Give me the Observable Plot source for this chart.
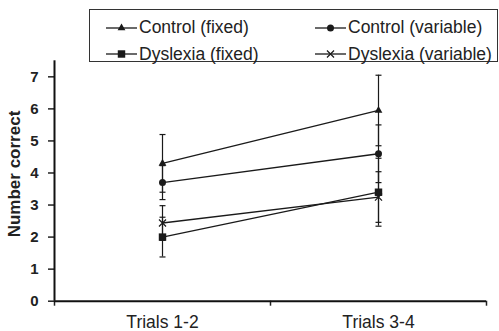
<!DOCTYPE html>
<html>
<head>
<meta charset="utf-8">
<script src="https://cdn.jsdelivr.net/npm/d3@7"></script>
<script src="https://cdn.jsdelivr.net/npm/@observablehq/plot@0.6"></script>
<style>
  html, body { margin: 0; padding: 0; background: #fff; }
  #wrap { position: relative; width: 499px; height: 331px; font-family: "Liberation Sans", Arial, sans-serif; color: #222; }
  #legend { position: absolute; left: 89px; top: 9px; width: 409px; height: 53px; border: 1.5px solid #333; box-sizing: border-box; background: #fff; }
  .item { position: absolute; height: 20px; display: flex; align-items: center; font-size: 17.5px; white-space: nowrap; }
  .item svg { margin-right: 2px; }
</style>
</head>
<body>
<div id="wrap"><div id="legend"></div></div>
<script>
// ---- data ----
const categories = ["Trials 1-2", "Trials 3-4"];
const seriesNames = ["Control (fixed)", "Control (variable)", "Dyslexia (fixed)", "Dyslexia (variable)"];
const controlFixed = [4.3, 5.95];
const controlFixedErr = [0.9, 1.1];
const controlVariable = [3.7, 4.6];
const controlVariableErr = [0.53, 0.9];
const dyslexiaFixed = [2.0, 3.4];
const dyslexiaFixedErr = [0.62, 1.06];
const dyslexiaVariable = [2.44, 3.25];
const dyslexiaVariableErr = [0.54, 0.79];
const yTicks = [0, 1, 2, 3, 4, 5, 6, 7];
const yLabel = "Number correct";

// ---- styles ----
const ink = "#1a1a1a";
const seriesSymbols = ["triangle", "circle", "square", "times"];
const seriesR = [2.9, 3.5, 4.2, 3.3];

const values = [controlFixed, controlVariable, dyslexiaFixed, dyslexiaVariable];
const errors = [controlFixedErr, controlVariableErr, dyslexiaFixedErr, dyslexiaVariableErr];

const rows = [];
seriesNames.forEach((s, k) => {
  categories.forEach((c, i) => {
    rows.push({series: s, k, cat: c, x: i + 0.5, y: values[k][i], err: errors[k][i]});
  });
});

// horizontal cap symbol for error bars
const capSymbol = {
  draw(context, size) {
    const r = Math.sqrt(size / Math.PI);
    context.moveTo(-r, 0);
    context.lineTo(r, 0);
  }
};

const markerMarks = seriesNames.map((s, k) => {
  const isStroke = seriesSymbols[k] === "times";
  return Plot.dot(rows.filter(d => d.k === k), {
    x: "x", y: "y", symbol: seriesSymbols[k], r: seriesR[k],
    fill: isStroke ? "none" : ink, stroke: isStroke ? ink : "none", strokeWidth: 1.2
  });
});

const chart = Plot.plot({
  width: 499,
  height: 331,
  marginLeft: 54,
  marginRight: 13,
  marginTop: 60.3,
  marginBottom: 30.3,
  style: {fontFamily: "'Liberation Sans', Arial, sans-serif", color: "#222", background: "transparent"},
  x: {domain: [0, categories.length]},
  y: {domain: [0, 7.5]},
  marks: [
    Plot.ruleX(rows, {x: "x", y1: d => d.y - d.err, y2: d => d.y + d.err, stroke: ink, strokeWidth: 1.2}),
    Plot.dot(rows, {x: "x", y: d => d.y - d.err, symbol: capSymbol, r: 3, fill: "none", stroke: ink, strokeWidth: 1.2}),
    Plot.dot(rows, {x: "x", y: d => d.y + d.err, symbol: capSymbol, r: 3, fill: "none", stroke: ink, strokeWidth: 1.2}),
    Plot.line(rows, {x: "x", y: "y", z: "series", stroke: ink, strokeWidth: 1.3}),
    ...markerMarks,
    Plot.axisY({ticks: yTicks, tickSize: 6, tickPadding: 10, fontSize: 15, fontWeight: "bold", strokeWidth: 1.5, label: null}),
    Plot.axisX({ticks: d3.range(categories.length + 1), tickSize: 5, strokeWidth: 1.5, tickFormat: () => "", label: null}),
    Plot.axisX({ticks: categories.map((c, i) => i + 0.5), tickSize: 0, tickPadding: 14, fontSize: 17.5, tickFormat: v => categories[Math.floor(v)], label: null}),
    Plot.ruleX([0], {stroke: "#111", strokeWidth: 2}),
    Plot.ruleY([0], {stroke: "#111", strokeWidth: 2}),
    Plot.text([yLabel], {frameAnchor: "left", textAnchor: "middle", lineAnchor: "middle", rotate: -90, dx: -40, dy: -7, fontSize: 17, fontWeight: "bold", fill: "#222"})
  ]
});
document.getElementById("wrap").prepend(chart);
chart.style.position = "absolute";
chart.style.left = "0";
chart.style.top = "0";

// ---- legend ----
const legend = d3.select("#legend");
const legendPos = [[16, 7.5], [225, 7.5], [16, 34], [225, 34]];
const legendOrder = [0, 1, 2, 3];
legendOrder.forEach((k, j) => {
  const item = legend.append("div").attr("class", "item")
    .style("left", legendPos[j][0] + "px").style("top", legendPos[j][1] + "px");
  const svg = item.append("svg").attr("width", 31).attr("height", 20);
  svg.append("line").attr("x1", 0).attr("x2", 31).attr("y1", 10).attr("y2", 10)
    .attr("stroke", ink).attr("stroke-width", 1.3);
  const symType = {triangle: d3.symbolTriangle, circle: d3.symbolCircle, square: d3.symbolSquare, times: d3.symbolTimes}[seriesSymbols[k]];
  const size = Math.PI * seriesR[k] * seriesR[k];
  const isStroke = seriesSymbols[k] === "times";
  svg.append("path").attr("transform", "translate(15.5,10)")
    .attr("d", d3.symbol(symType, size)())
    .attr("fill", isStroke ? "none" : ink).attr("stroke", isStroke ? ink : "none").attr("stroke-width", 1.2);
  item.append("span").text(seriesNames[k]);
});
</script>
</body>
</html>
